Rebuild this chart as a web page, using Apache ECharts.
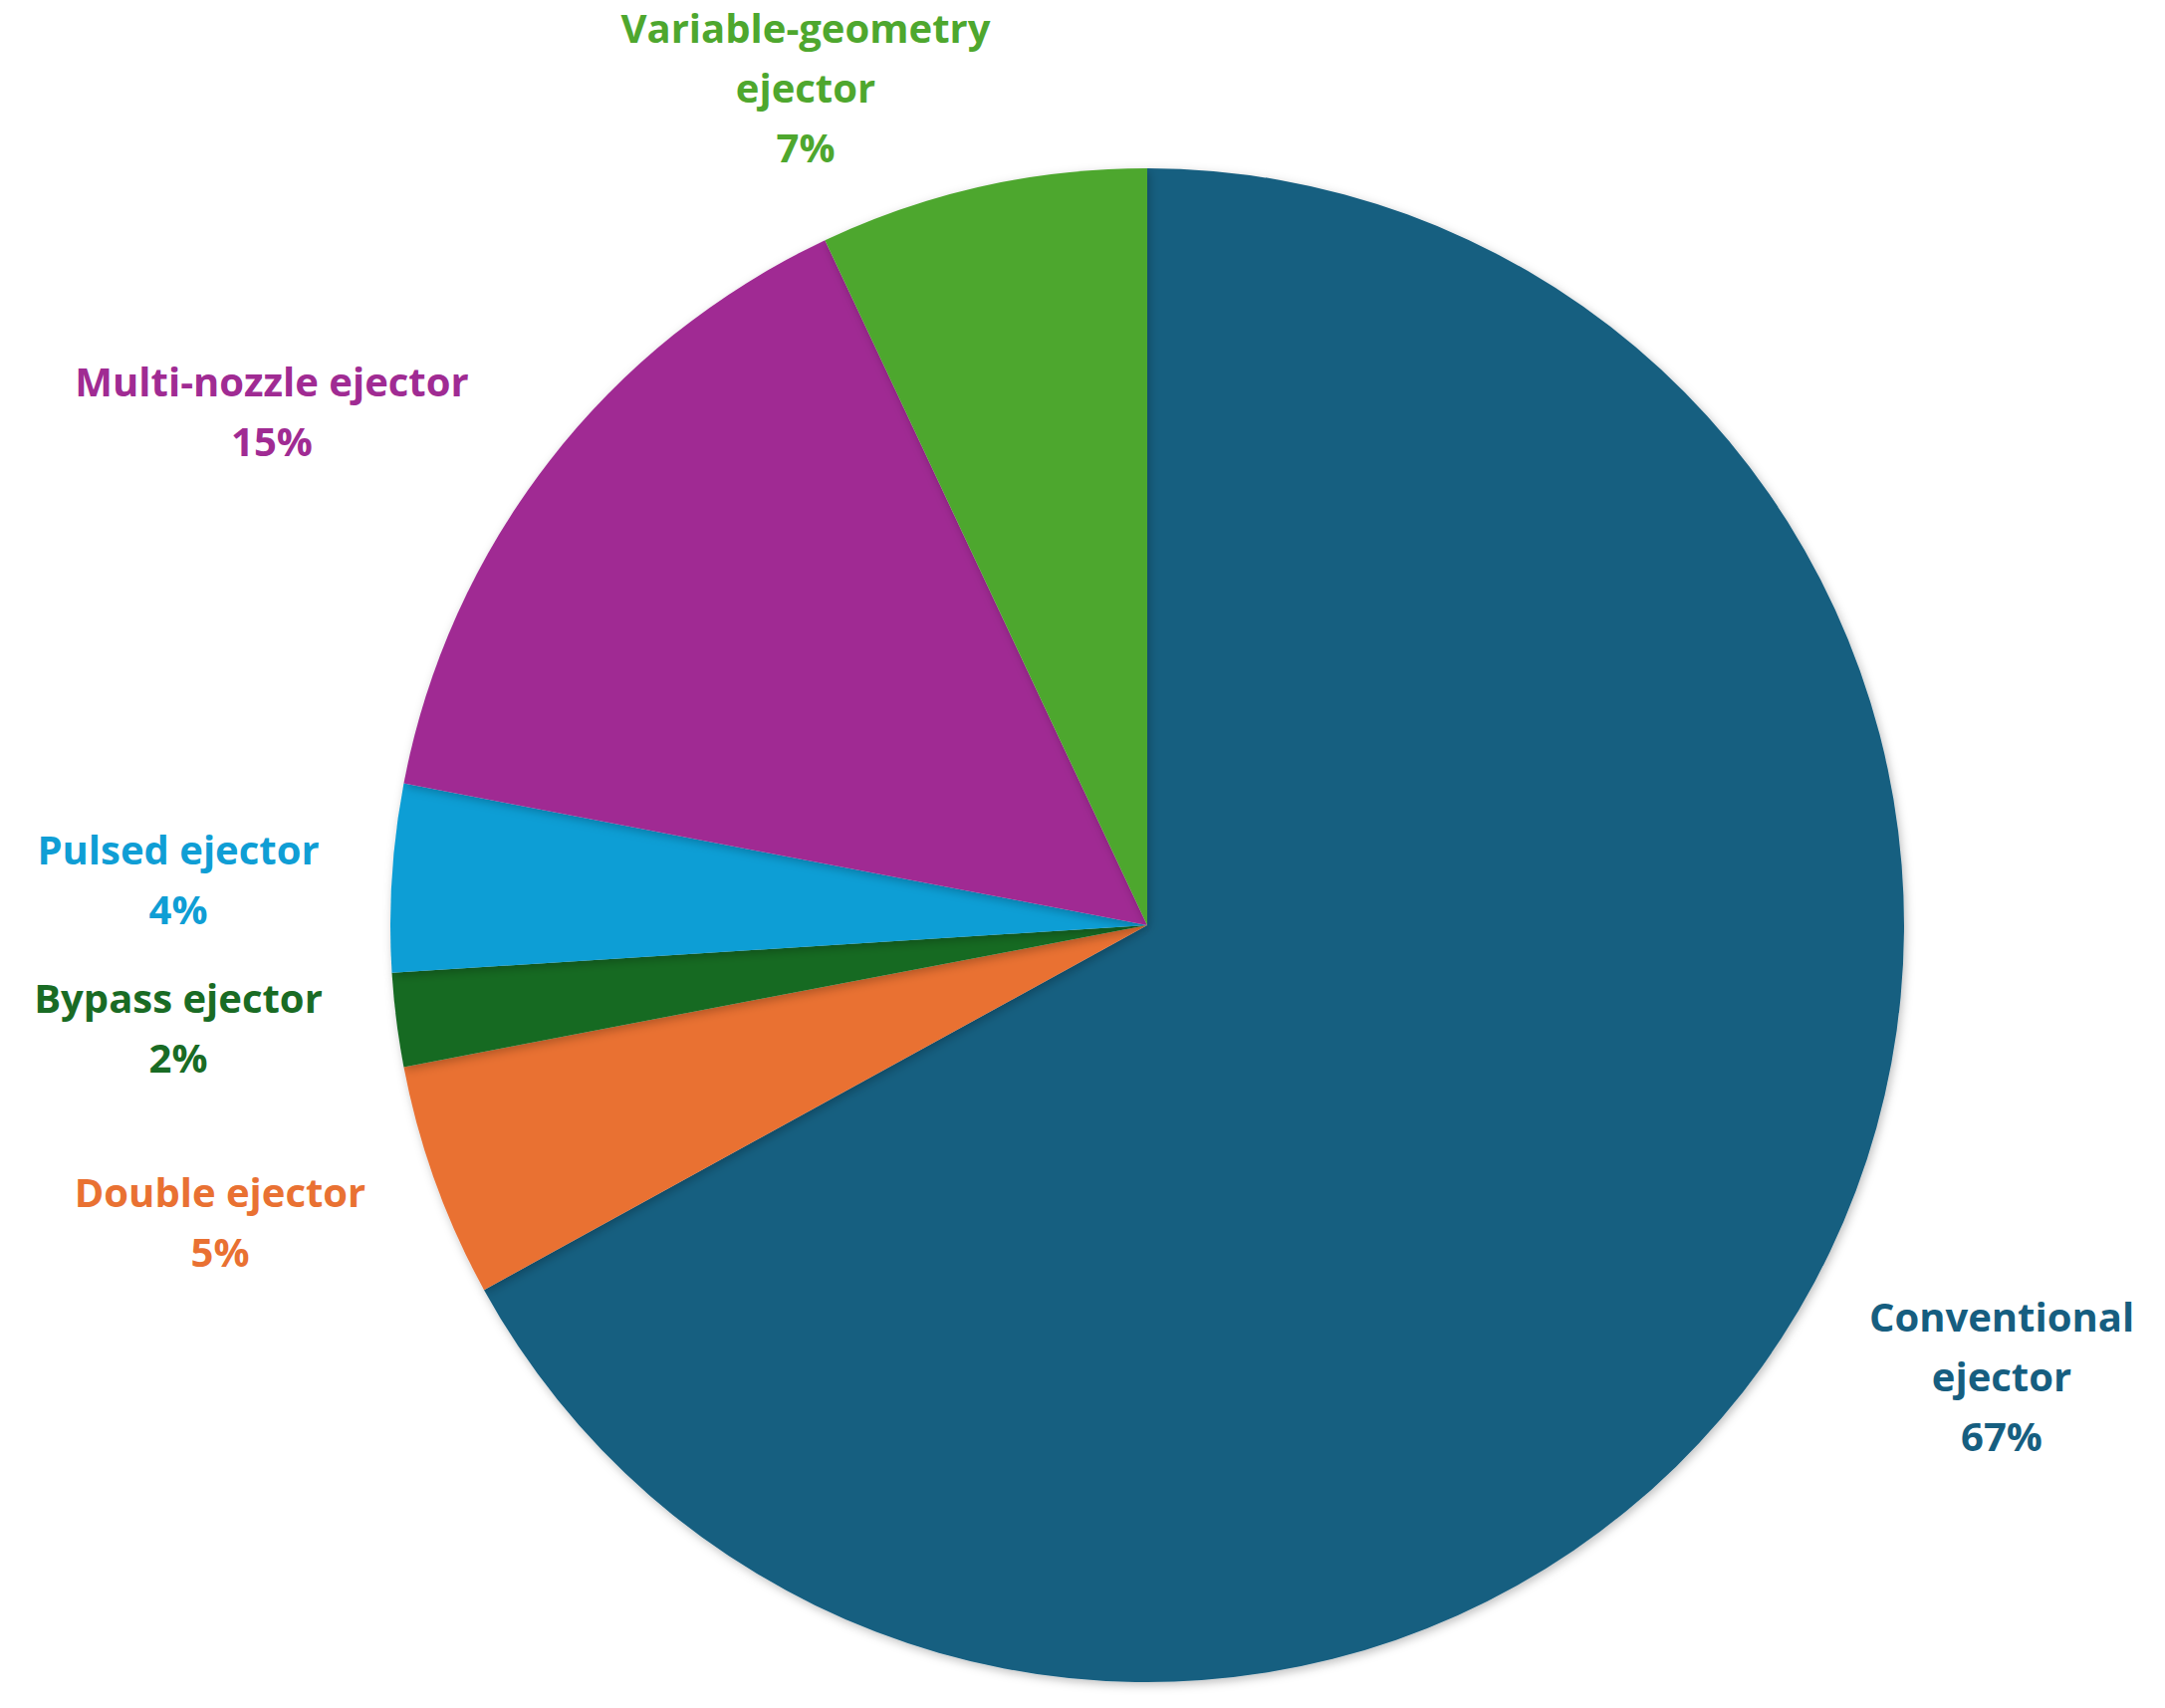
<!DOCTYPE html>
<html>
<head>
<meta charset="utf-8">
<style>html,body{margin:0;background:#fff}#c{width:2174px;height:1715px}</style>
<script src="https://cdn.jsdelivr.net/npm/echarts@6/dist/echarts.min.js"></script>
</head>
<body>
<div id="c"></div>
<script>
"use strict";
const names = ["Conventional\nejector", "Double ejector", "Bypass ejector",
               "Pulsed ejector", "Multi-nozzle ejector", "Variable-geometry\nejector"];
const values = [67, 5, 2, 4, 15, 7];
const colors = ["#165e80", "#e97132", "#196b24", "#0f9ed5", "#a02b93", "#4ea72e"];
// label centres (page px), text only
const labelPos = [[2010, 1381], [221, 1226], [179, 1031], [179, 882], [273, 412], [809, 87]];

const chart = echarts.init(document.getElementById("c"), null, { renderer: "svg" });
chart.setOption({
  animation: false,
  series: [{
    type: "pie",
    center: [1152, 929],
    radius: 760,
    startAngle: 90,
    clockwise: true,
    data: names.map((n, i) => ({
      name: n, value: values[i],
      itemStyle: { color: colors[i] },
      label: { color: colors[i] },
    })),
    itemStyle: { shadowBlur: 10, shadowColor: "rgba(0,0,0,0.25)", shadowOffsetX: 2, shadowOffsetY: 3 },
    label: {
      show: true,
      formatter: "{b}\n{c}%",
      fontFamily: "Open Sans",
      fontWeight: "bold",
      fontSize: 40,
      lineHeight: 60,
      align: "center",
    },
    labelLine: { show: false },
    labelLayout: (p) => ({
      x: labelPos[p.dataIndex][0],
      y: labelPos[p.dataIndex][1],
      align: "center",
      verticalAlign: "middle",
    }),
  }],
});
</script>
</body>
</html>
